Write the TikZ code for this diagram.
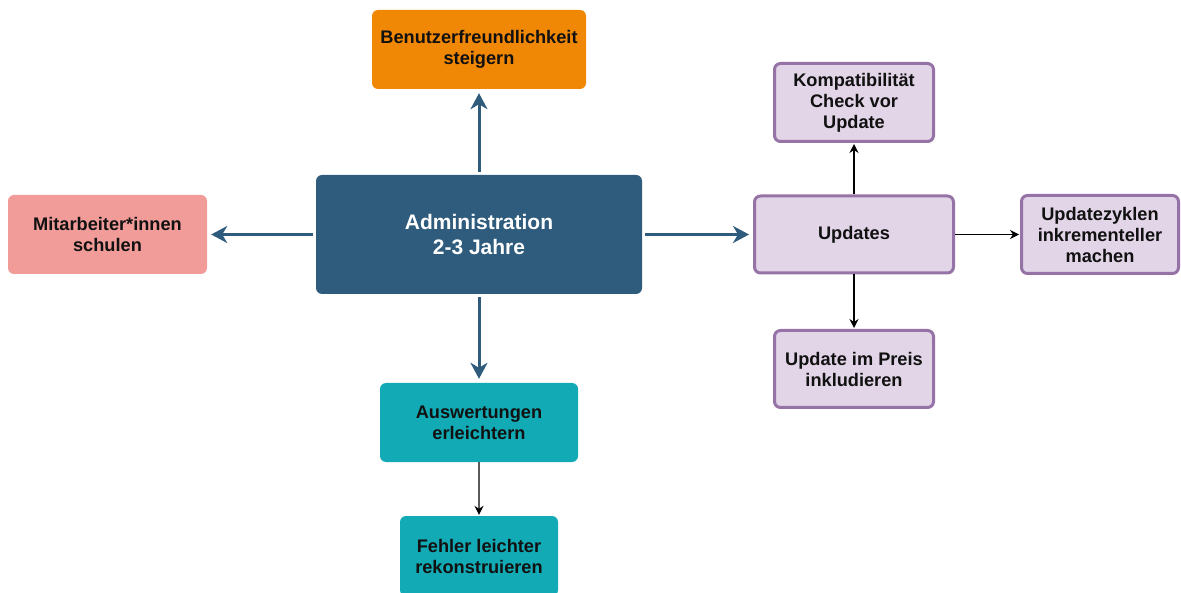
\documentclass[tikz,border=0pt]{standalone}
\usepackage{fontspec}
\setmainfont{Liberation Sans}
\usetikzlibrary{arrows.meta}
\definecolor{navy}{HTML}{2F5B7C}
\definecolor{orangebox}{HTML}{F08705}
\definecolor{pinkbox}{HTML}{F19C99}
\definecolor{tealbox}{HTML}{12AAB5}
\definecolor{lilacfill}{HTML}{E1D5E7}
\definecolor{lilacline}{HTML}{9673A6}
\definecolor{ink}{HTML}{111111}
\begin{document}
\begin{tikzpicture}[x=1pt,y=-1pt,
  box/.style={rectangle, rounded corners=6pt, align=center, inner sep=0pt,
    font=\fontsize{18.2}{21}\selectfont\bfseries, text=ink},
  solidbox/.style={box, draw=none},
  lilacbox/.style={box, fill=lilacfill, draw=lilacline, line width=3pt},
  mainlink/.style={draw=navy, line width=3pt, shorten <=3pt, shorten >=4pt,
    -{Stealth[length=16pt,width=17pt,inset=5pt]}},
  sublink/.style={draw=black, line width=1.3pt, shorten >=1pt,
    -{Stealth[length=9pt,width=9pt,inset=3pt,color=black]}}
]
\useasboundingbox (0,0) rectangle (1181,593);

% central block
\node[solidbox, fill=navy, text=white, minimum width=326pt, minimum height=119pt,
  font=\fontsize{21}{25}\selectfont\bfseries] (admin) at (479,234.5)
  {Administration\\2-3 Jahre};

% goals around the centre
\node[solidbox, fill=orangebox, minimum width=214pt, minimum height=79pt]
  (usab) at (479,49.5) {Benutzerfreundlichkeit\\steigern};
\node[solidbox, fill=pinkbox, minimum width=199pt, minimum height=79pt]
  (staff) at (107.5,234.5) {Mitarbeiter*innen\\schulen};
\node[solidbox, fill=tealbox, minimum width=198pt, minimum height=79pt]
  (eval) at (479,422.5) {Auswertungen\\erleichtern};
\node[solidbox, fill=tealbox, minimum width=158pt, minimum height=80pt]
  (errors) at (479,556) {Fehler leichter\\rekonstruieren};

% update branch
\node[lilacbox, minimum width=199pt, minimum height=77pt]
  (upd) at (854,234.5) {Updates};
\node[lilacbox, minimum width=159pt, minimum height=78pt]
  (compat) at (854,102.5) {Kompatibilität\\Check vor\\Update};
\node[lilacbox, minimum width=157pt, minimum height=78pt]
  (cycles) at (1100,234.5) {Updatezyklen\\inkrementeller\\machen};
\node[lilacbox, minimum width=159pt, minimum height=77pt]
  (price) at (854,369) {Update im Preis\\inkludieren};

% connectors
\draw[mainlink] (admin.north) -- (usab.south);
\draw[mainlink] (admin.west) -- (staff.east);
\draw[mainlink] (admin.south) -- (eval.north);
\draw[mainlink] (admin.east) -- (upd.west);

\draw[sublink] (upd.north) -- (compat.south);
\draw[sublink] (upd.south) -- (price.north);
\draw[sublink] (upd.east) -- (cycles.west);
\draw[sublink, draw=black!65] (eval.south) -- (errors.north);
\end{tikzpicture}
\end{document}
